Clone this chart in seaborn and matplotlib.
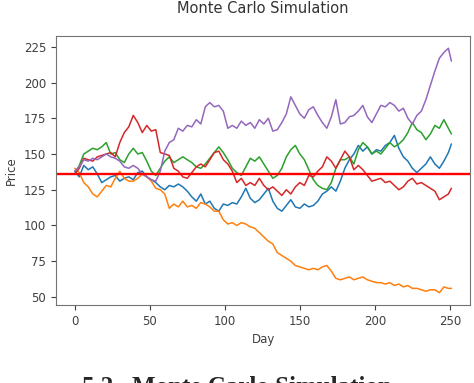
import numpy as np
import pandas as pd
import seaborn as sns
import matplotlib.pyplot as plt

# simulated price paths, every 3 days
days = list(range(0, 250, 3)) + [251]

blue = [138, 134, 142, 139, 141, 136, 130, 132, 134, 135, 131, 133, 134, 132, 137, 138, 134, 132, 130, 127,
        125, 128, 127, 129, 127, 124, 120, 117, 122, 115, 117, 112, 110, 115, 114, 116, 115, 120, 126, 119,
        116, 118, 122, 126, 117, 112, 110, 114, 118, 113, 112, 115, 113, 114, 117, 122, 124, 127, 124, 131,
        140, 146, 150, 156, 152, 155, 150, 153, 152, 156, 158, 163, 154, 148, 145, 140, 137, 140, 143, 148,
        143, 140, 145, 151, 157]

orange = [140, 137, 130, 127, 122, 120, 124, 128, 127, 133, 138, 133, 131, 131, 133, 136, 134, 131, 126, 125,
          122, 112, 115, 113, 117, 113, 114, 112, 116, 115, 113, 110, 110, 104, 101, 102, 100, 102, 101, 99,
          98, 95, 92, 89, 87, 81, 79, 77, 75, 72, 71, 70, 69, 70, 69, 71, 72, 68, 63, 62,
          63, 64, 62, 63, 64, 62, 61, 60, 60, 59, 60, 58, 59, 57, 58, 56, 56, 55, 54, 55,
          55, 53, 57, 56, 56]

green = [136, 142, 150, 152, 154, 153, 155, 158, 150, 151, 146, 144, 150, 154, 150, 151, 145, 138, 135, 140,
         145, 148, 144, 146, 148, 146, 144, 141, 140, 143, 147, 151, 155, 151, 146, 140, 137, 135, 141, 147,
         145, 148, 143, 138, 133, 135, 140, 148, 153, 156, 150, 146, 139, 132, 128, 126, 125, 130, 140, 146,
         146, 148, 143, 153, 158, 155, 150, 152, 150, 154, 158, 155, 157, 160, 165, 172, 167, 165, 160, 164,
         170, 168, 174, 168, 164]

red = [136, 140, 147, 146, 145, 148, 149, 150, 151, 148, 158, 165, 169, 177, 172, 165, 170, 166, 167, 151,
       150, 149, 140, 138, 134, 133, 137, 141, 143, 141, 146, 151, 152, 146, 143, 138, 130, 133, 128, 130,
       128, 133, 128, 125, 127, 124, 121, 125, 122, 127, 130, 128, 135, 134, 138, 141, 148, 145, 140, 146,
       152, 148, 139, 142, 139, 135, 131, 132, 133, 130, 131, 128, 125, 127, 131, 133, 129, 130, 128, 126,
       124, 118, 120, 122, 126]

purple = [138, 141, 146, 145, 147, 146, 148, 150, 148, 147, 145, 141, 140, 142, 140, 136, 134, 132, 131, 138,
          152, 158, 160, 168, 166, 170, 169, 174, 171, 183, 186, 183, 184, 180, 168, 170, 168, 173, 170, 172,
          168, 174, 171, 175, 166, 167, 172, 178, 190, 184, 178, 175, 181, 183, 177, 172, 168, 176, 188, 171,
          172, 176, 177, 180, 184, 176, 172, 178, 184, 183, 186, 184, 180, 182, 175, 171, 177, 180, 188, 198,
          208, 217, 221, 224, 215]

start_price = 135.7

runs = [blue, orange, green, red, purple]
frames = []
for i, r in enumerate(runs):
    frames.append(pd.DataFrame({"Day": days, "Price": r, "run": i}))
df = pd.concat(frames)

sns.set_style("ticks")
fig = plt.figure(figsize=(4.74, 3.83), dpi=100)
ax = fig.add_axes([0.118, 0.204, 0.874, 0.702])

sns.lineplot(data=df, x="Day", y="Price", hue="run", palette="tab10",
             linewidth=1.1, legend=False, errorbar=None, ax=ax)
ax.axhline(start_price, color="red", linewidth=1.7)

ax.set_yticks([50, 75, 100, 125, 150, 175, 200, 225])
ax.tick_params(labelsize=8.5, colors="0.25")
ax.set_xlabel("Day", fontsize=8.5, color="0.25")
ax.set_ylabel("Price", fontsize=8.5, color="0.25")
ax.set_title("Monte Carlo Simulation", fontsize=10.5, pad=16.5, color="0.2")
for s in ax.spines.values():
    s.set_color("0.45")

# caption under the figure, cut off at the bottom edge as in the source
fig.text(0.5, -0.028, "5.2   Monte Carlo Simulation", ha="center", va="baseline",
         family="Liberation Serif", weight="bold", fontsize=18)

fig.savefig("out.png", dpi=100)
